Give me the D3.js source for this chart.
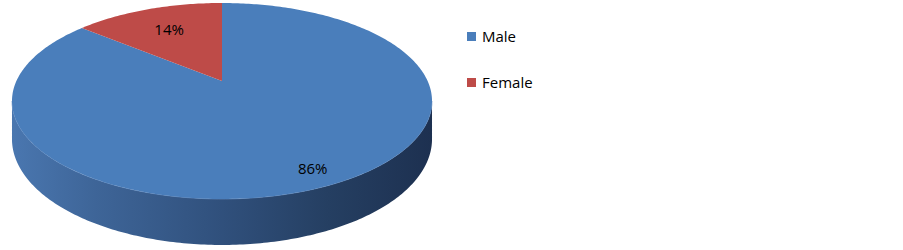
<!DOCTYPE html>
<html>
<head>
<meta charset="utf-8">
<script src="https://cdn.jsdelivr.net/npm/d3@7"></script>
<style>
  html, body { margin: 0; padding: 0; background: #fff; }
  svg { display: block; }
</style>
</head>
<body>
<div id="chart"></div>
<script>
// ---- data ----
const categories = ["Male", "Female"];
const values = [86, 14];
const colors = ["#4a7ebb", "#be4b48"];
const labelTexts = ["86%", "14%"];

// ---- layout / style ----
const W = 903, H = 250;
const cx = 222;                 // horizontal centre of pie
const K = 205.6;                // horizontal radius factor
const A = 77.39, B = 81, C = -0.204; // perspective mapping of depth
const T = 36.6;                 // thickness factor
const labelR = [0.87, 0.68];
const font = "'Open Sans', 'Noto Sans', sans-serif";

const svg = d3.select("#chart").append("svg")
  .attr("width", W).attr("height", H)
  .style("background", "#fff");

// projection of a ground-plane point (u: right, v: toward viewer) to screen
function proj(u, v, drop) {
  const d = 1 + C * v;
  return [cx + K * u / d, (A * v + B) / d + (drop ? T / d : 0)];
}
function angPt(a, r, drop) {
  // a: clockwise from 12 o'clock
  return proj(r * Math.sin(a), -r * Math.cos(a), drop);
}

const pie = d3.pie().sort(null).value(d => d)(values);

// ---- side (front wall) ----
const defs = svg.append("defs");
const grad = defs.append("linearGradient")
  .attr("id", "sideGrad")
  .attr("gradientUnits", "userSpaceOnUse")
  .attr("x1", cx - K * 1.03).attr("x2", cx + K * 1.03)
  .attr("y1", 0).attr("y2", 0);
[[0, "#4a77b0"], [0.2, "#3e6598"], [0.5, "#30507c"], [0.75, "#253f62"], [1, "#1d3050"]]
  .forEach(([o, c]) => grad.append("stop").attr("offset", o).attr("stop-color", c));

const vEdge = -C;            // depth at silhouette
const aStart = Math.acos(-vEdge);            // right silhouette
const aEnd = 2 * Math.PI - Math.acos(-vEdge); // left silhouette
const N = 200;
const sideAngles = d3.range(N + 1).map(i => aStart + (aEnd - aStart) * i / N);
const topFront = sideAngles.map(a => angPt(a, 1, false));
const botFront = sideAngles.map(a => angPt(a, 1, true)).reverse();

svg.append("path")
  .attr("d", d3.line()(topFront.concat(botFront)) + "Z")
  .attr("fill", "url(#sideGrad)");

// subtle highlight along top front rim
svg.append("path")
  .attr("d", d3.line()(topFront))
  .attr("fill", "none")
  .attr("stroke", "#6b93c8")
  .attr("stroke-width", 1)
  .attr("opacity", 0.6);

// ---- top face slices ----
svg.append("g").selectAll("path")
  .data(pie)
  .join("path")
  .attr("d", d => {
    const n = Math.max(8, Math.ceil((d.endAngle - d.startAngle) / (2 * Math.PI) * 400));
    const pts = [proj(0, 0, false)];
    for (let i = 0; i <= n; i++) {
      const a = d.startAngle + (d.endAngle - d.startAngle) * i / n;
      pts.push(angPt(a, 1, false));
    }
    return d3.line()(pts) + "Z";
  })
  .attr("fill", (d, i) => colors[i]);

// ---- labels ----
svg.append("g").selectAll("text")
  .data(pie)
  .join("text")
  .attr("x", (d, i) => angPt((d.startAngle + d.endAngle) / 2, labelR[i], false)[0])
  .attr("y", (d, i) => angPt((d.startAngle + d.endAngle) / 2, labelR[i], false)[1] + 5)
  .attr("text-anchor", "middle")
  .attr("font-family", font)
  .attr("font-size", 15)
  .attr("fill", "#000")
  .text((d, i) => labelTexts[i]);

// ---- legend ----
const legend = svg.append("g").attr("transform", "translate(467,32)");
const li = legend.selectAll("g").data(categories).join("g")
  .attr("transform", (d, i) => `translate(0,${i * 46})`);
li.append("rect").attr("width", 9).attr("height", 9)
  .attr("fill", (d, i) => colors[i]);
li.append("text").attr("x", 15).attr("y", 9.5)
  .attr("font-family", font).attr("font-size", 15)
  .attr("fill", "#000")
  .text(d => d);
</script>
</body>
</html>
